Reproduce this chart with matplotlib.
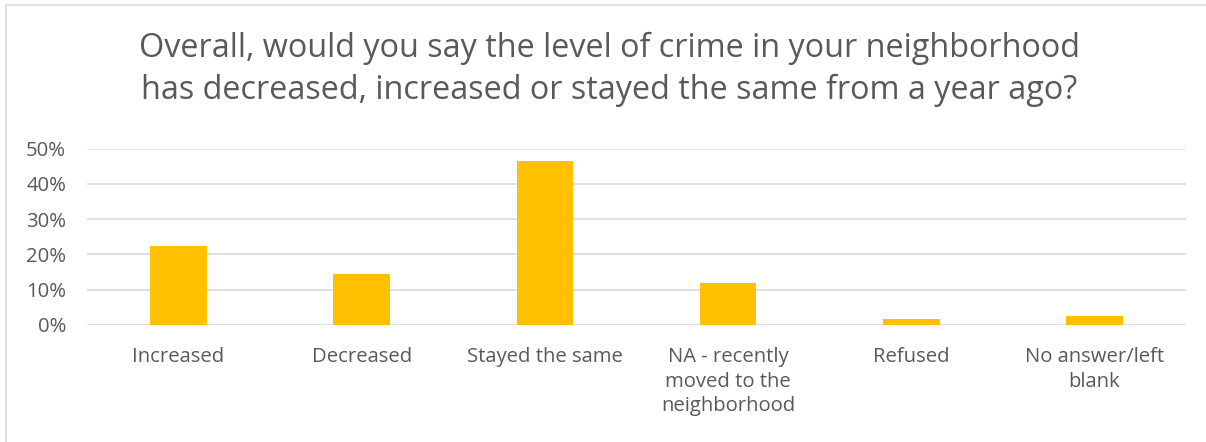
import matplotlib
matplotlib.use("Agg")
import matplotlib.pyplot as plt
from matplotlib.patches import Rectangle
from matplotlib.ticker import FuncFormatter

categories = ["Increased", "Decreased", "Stayed the same",
              "NA - recently\nmoved to the\nneighborhood", "Refused",
              "No answer/left\nblank"]
values = [22.3, 14.4, 46.5, 11.9, 1.7, 2.6]
yticks = [0, 10, 20, 30, 40, 50]
title = "Overall, would you say the level of crime in your neighborhood\nhas decreased, increased or stayed the same from a year ago?"

W, H = 1206, 442
fig = plt.figure(figsize=(W / 100, H / 100), dpi=100)
plt.rcParams['font.family'] = ['Open Sans', 'DejaVu Sans']
text_color = "#595959"

# chart border
fig.patches.append(Rectangle((6 / W, -0.5), 1.5, 1.5 - 5 / H, transform=fig.transFigure,
                             fill=False, edgecolor="#d9d9d9", linewidth=1.2))

ax = fig.add_axes([87 / W, 1 - 325 / H, (1186 - 87) / W, (325 - 148.7) / H])
x = list(range(len(categories)))
ax.bar(x, values, width=0.31, color="#ffc000", zorder=3)
ax.set_xlim(-0.5, len(categories) - 0.5)
ax.set_ylim(0, 50)
ax.set_yticks(yticks)
ax.yaxis.set_major_formatter(FuncFormatter(lambda v, p: f"{int(v)}%"))
ax.set_xticks(x)
ax.set_xticklabels(categories, fontsize=14.6, color=text_color, linespacing=1.3)
ax.tick_params(axis='y', labelsize=14.6, labelcolor=text_color, length=0, pad=15)
ax.tick_params(axis='x', length=0, pad=16)
ax.grid(axis='y', color="#d9d9d9", linewidth=1.2, zorder=0)
for s in ax.spines.values():
    s.set_visible(False)

fig.text(0.505, 1 - 69.5 / H, title, ha='center', va='center', fontsize=23.3,
         color=text_color, linespacing=1.33)

fig.savefig("out.png", dpi=100, facecolor="white")
